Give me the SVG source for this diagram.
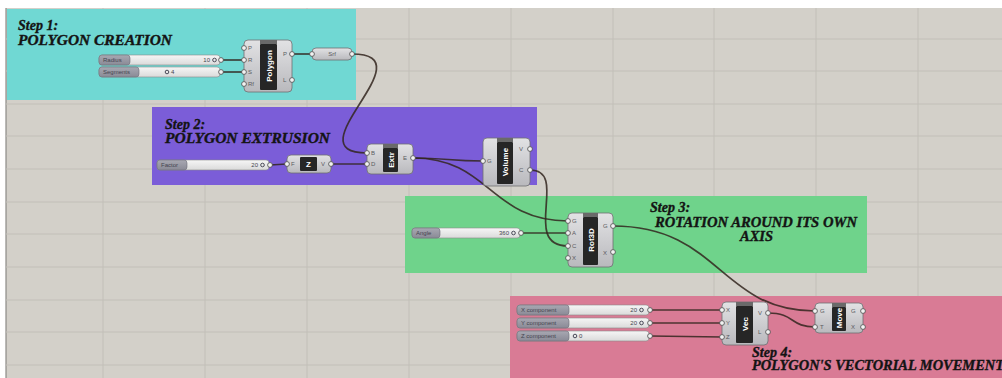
<svg xmlns="http://www.w3.org/2000/svg" width="1002" height="378" viewBox="0 0 1002 378">
  <defs>
    <linearGradient id="gBody" x1="0" y1="0" x2="0" y2="1">
      <stop offset="0" stop-color="#e2e2e4"/>
      <stop offset="1" stop-color="#b9b9bd"/>
    </linearGradient>
    <linearGradient id="gField" x1="0" y1="0" x2="0" y2="1">
      <stop offset="0" stop-color="#f6f6f6"/>
      <stop offset="1" stop-color="#dadada"/>
    </linearGradient>
    <linearGradient id="gLab" x1="0" y1="0" x2="0" y2="1">
      <stop offset="0" stop-color="#a8a8b2"/>
      <stop offset="1" stop-color="#8a8a96"/>
    </linearGradient>
    <style>
      .canvas{fill:#d3d0c9}
      .grid{stroke:#c2bfb8;stroke-width:1}
      .body{fill:url(#gBody);stroke:#6e6e72;stroke-width:0.8}
      .core{fill:#262626}
      .cap{fill:#6a6a6a}
      .port{fill:#f2f2f2;stroke:#4a4a4a;stroke-width:0.8}
      .pl{font-family:"Liberation Sans",sans-serif;font-size:6px;fill:#5a5a60}
      .name{font-family:"Liberation Sans",sans-serif;font-weight:bold;font-size:8px;fill:#ffffff}
      .wire{fill:none;stroke:#33261e;stroke-opacity:0.85;stroke-width:1.7}
      .title{font-family:"Liberation Serif",serif;font-weight:900;font-style:italic;font-size:14px;fill:#141414;stroke:#141414;stroke-width:0.35}
      .slab{fill:url(#gLab);stroke:#6e6e78;stroke-width:0.6}
      .sfield{fill:url(#gField);stroke:#8a8a8a;stroke-width:0.6}
      .stext{font-family:"Liberation Sans",sans-serif;font-size:6px;fill:#44444f}
      .grip{fill:none;stroke:#4a4a58;stroke-width:1}
    </style>
  </defs>

  <!-- canvas and grid -->
  <rect x="0" y="0" width="1002" height="378" fill="#ffffff"/>
  <rect class="canvas" x="6" y="8" width="996" height="370"/>
  <line x1="6" y1="8" x2="6" y2="378" stroke="#8c8a86" stroke-width="1.2"/>
  <g class="grid">
    <line x1="6" y1="39" x2="1002" y2="39"/>
    <line x1="6" y1="71" x2="1002" y2="71"/>
    <line x1="6" y1="104" x2="1002" y2="104"/>
    <line x1="6" y1="136" x2="1002" y2="136"/>
    <line x1="6" y1="169" x2="1002" y2="169"/>
    <line x1="6" y1="202" x2="1002" y2="202"/>
    <line x1="6" y1="234" x2="1002" y2="234"/>
    <line x1="6" y1="267" x2="1002" y2="267"/>
    <line x1="6" y1="300" x2="1002" y2="300"/>
    <line x1="6" y1="332" x2="1002" y2="332"/>
    <line x1="6" y1="365" x2="1002" y2="365"/>
    <line x1="103" y1="8" x2="103" y2="378"/>
    <line x1="205" y1="8" x2="205" y2="378"/>
    <line x1="307" y1="8" x2="307" y2="378"/>
    <line x1="409" y1="8" x2="409" y2="378"/>
    <line x1="511" y1="8" x2="511" y2="378"/>
    <line x1="613" y1="8" x2="613" y2="378"/>
    <line x1="714" y1="8" x2="714" y2="378"/>
    <line x1="816" y1="8" x2="816" y2="378"/>
    <line x1="918" y1="8" x2="918" y2="378"/>
  </g>

  <!-- groups -->
  <g id="group-step1">
    <rect x="7" y="9" width="349" height="91" fill="#70d8d3"/>
    <text class="title" x="18" y="30">Step 1:</text>
    <text class="title" x="18" y="45" textLength="154" lengthAdjust="spacingAndGlyphs">POLYGON CREATION</text>
  </g>
  <g id="group-step2">
    <rect x="152" y="107" width="385" height="78" fill="#7b5dd8"/>
    <text class="title" x="165" y="129">Step 2:</text>
    <text class="title" x="165" y="143" textLength="165" lengthAdjust="spacingAndGlyphs">POLYGON EXTRUSION</text>
  </g>
  <g id="group-step3">
    <rect x="405" y="196" width="462" height="77" fill="#6fd38b"/>
    <text class="title" x="650" y="212" font-size="13">Step 3:</text>
    <text class="title" x="655" y="227" font-size="13" textLength="202" lengthAdjust="spacingAndGlyphs">ROTATION AROUND ITS OWN</text>
    <text class="title" x="740" y="241" font-size="13" textLength="33" lengthAdjust="spacingAndGlyphs">AXIS</text>
  </g>
  <g id="group-step4">
    <rect x="510" y="296" width="492" height="82" fill="#d97b95"/>
    <text class="title" x="752" y="357" font-size="11">Step 4:</text>
    <text class="title" x="752" y="370" font-size="11" textLength="252" lengthAdjust="spacingAndGlyphs">POLYGON'S VECTORIAL MOVEMENT</text>
  </g>

  <!-- connectors -->
  <g id="connectors">
    <path class="wire" d="M222,60 L244,60"/>
    <path class="wire" d="M222,72 L244,72"/>
    <path class="wire" d="M292,54 C300,54 304,54 312,54"/>
    <path class="wire" d="M352,54 C430,54 290,153 367,153"/>
    <path class="wire" d="M270,165 L287,164"/>
    <path class="wire" d="M331,164 L367,164"/>
    <path class="wire" d="M413,158 C448,158 448,161 483,161"/>
    <path class="wire" d="M413,158 C490,158 490,221 568,221"/>
    <path class="wire" d="M530,170 C570,170 520,246 568,246"/>
    <path class="wire" d="M522,233 L568,233"/>
    <path class="wire" d="M613,226 C720,226 720,311 815,311"/>
    <path class="wire" d="M650,310 L722,310"/>
    <path class="wire" d="M650,323 L722,323"/>
    <path class="wire" d="M650,336 L722,337"/>
    <path class="wire" d="M768,313 C795,313 790,327 815,327"/>
  </g>

  <!-- Step 1 nodes -->
  <g id="slider-radius">
    <rect class="sfield" x="99" y="55" width="121" height="10" rx="3"/>
    <rect class="slab" x="99" y="55" width="31" height="10" rx="3"/>
    <text class="stext" x="103" y="62.2">Radius</text>
    <text class="stext" x="210" y="62.2" text-anchor="end">10</text>
    <circle class="grip" cx="214.5" cy="60" r="1.8"/>
    <circle class="port" cx="221" cy="60" r="2.4"/>
  </g>
  <g id="slider-segments">
    <rect class="sfield" x="99" y="67" width="121" height="10" rx="3"/>
    <rect class="slab" x="99" y="67" width="40" height="10" rx="3"/>
    <text class="stext" x="103" y="74.2">Segments</text>
    <circle class="grip" cx="167" cy="72" r="1.8"/>
    <text class="stext" x="171" y="74.2">4</text>
    <circle class="port" cx="221" cy="72" r="2.4"/>
  </g>
  <g id="polygon">
    <rect class="body" x="244" y="40" width="48" height="52" rx="4"/>
    <rect class="cap" x="260" y="40" width="17" height="4"/>
    <rect class="core" x="260" y="44" width="17" height="46" rx="1"/>
    <text class="name" transform="translate(271.5,66) rotate(-90)" text-anchor="middle">Polygon</text>
    <text class="pl" x="248" y="50">P</text>
    <text class="pl" x="248" y="62">R</text>
    <text class="pl" x="248" y="74">S</text>
    <text class="pl" x="248" y="86">Rf</text>
    <text class="pl" x="283" y="56">P</text>
    <text class="pl" x="283" y="82">L</text>
    <circle class="port" cx="244" cy="48" r="2.4"/>
    <circle class="port" cx="244" cy="60" r="2.4"/>
    <circle class="port" cx="244" cy="72" r="2.4"/>
    <circle class="port" cx="244" cy="84" r="2.4"/>
    <circle class="port" cx="292" cy="54" r="2.4"/>
    <circle class="port" cx="292" cy="80" r="2.4"/>
  </g>
  <g id="srf">
    <rect class="body" x="312" y="48" width="40" height="12" rx="4"/>
    <text class="pl" x="332" y="56" text-anchor="middle">Srf</text>
    <circle class="port" cx="312" cy="54" r="2.4"/>
    <circle class="port" cx="352" cy="54" r="2.4"/>
  </g>

  <!-- Step 2 nodes -->
  <g id="slider-factor">
    <rect class="sfield" x="157" y="160" width="112" height="10" rx="3"/>
    <rect class="slab" x="157" y="160" width="30" height="10" rx="3"/>
    <text class="stext" x="161" y="167.2">Factor</text>
    <text class="stext" x="258" y="167.2" text-anchor="end">20</text>
    <circle class="grip" cx="262.5" cy="165" r="1.8"/>
    <circle class="port" cx="270" cy="165" r="2.4"/>
  </g>
  <g id="unit-z">
    <rect class="body" x="287" y="155" width="44" height="18" rx="4"/>
    <rect class="core" x="300" y="157" width="17" height="14" rx="1"/>
    <text class="name" x="308.5" y="167" text-anchor="middle">Z</text>
    <text class="pl" x="291" y="166">F</text>
    <text class="pl" x="321" y="166">V</text>
    <circle class="port" cx="287" cy="164" r="2.4"/>
    <circle class="port" cx="331" cy="164" r="2.4"/>
  </g>
  <g id="extrude">
    <rect class="body" x="367" y="144" width="46" height="30" rx="4"/>
    <rect class="cap" x="383" y="144" width="15" height="4"/>
    <rect class="core" x="383" y="148" width="15" height="24" rx="1"/>
    <text class="name" transform="translate(393.5,160) rotate(-90)" text-anchor="middle">Extr</text>
    <text class="pl" x="371" y="155">B</text>
    <text class="pl" x="371" y="166">D</text>
    <text class="pl" x="403" y="160">E</text>
    <circle class="port" cx="367" cy="153" r="2.4"/>
    <circle class="port" cx="367" cy="164" r="2.4"/>
    <circle class="port" cx="413" cy="158" r="2.4"/>
  </g>
  <g id="volume">
    <rect class="body" x="483" y="138" width="47" height="48" rx="4"/>
    <rect class="cap" x="497" y="138" width="16" height="4"/>
    <rect class="core" x="497" y="142" width="16" height="42" rx="1"/>
    <text class="name" transform="translate(508,162) rotate(-90)" text-anchor="middle">Volume</text>
    <text class="pl" x="487" y="163">G</text>
    <text class="pl" x="519" y="151">V</text>
    <text class="pl" x="519" y="172">C</text>
    <circle class="port" cx="483" cy="161" r="2.4"/>
    <circle class="port" cx="530" cy="149" r="2.4"/>
    <circle class="port" cx="530" cy="170" r="2.4"/>
  </g>

  <!-- Step 3 nodes -->
  <g id="slider-angle">
    <rect class="sfield" x="412" y="228" width="108" height="10" rx="3"/>
    <rect class="slab" x="412" y="228" width="28" height="10" rx="3"/>
    <text class="stext" x="416" y="235.2">Angle</text>
    <text class="stext" x="509" y="235.2" text-anchor="end">360</text>
    <circle class="grip" cx="513.5" cy="233" r="1.8"/>
    <circle class="port" cx="521" cy="233" r="2.4"/>
  </g>
  <g id="rotate3d">
    <rect class="body" x="568" y="213" width="45" height="54" rx="4"/>
    <rect class="cap" x="583" y="213" width="15" height="4"/>
    <rect class="core" x="583" y="217" width="15" height="48" rx="1"/>
    <text class="name" transform="translate(593.5,240) rotate(-90)" text-anchor="middle">Rot3D</text>
    <text class="pl" x="572" y="223">G</text>
    <text class="pl" x="572" y="235">A</text>
    <text class="pl" x="572" y="248">C</text>
    <text class="pl" x="572" y="260">X</text>
    <text class="pl" x="603" y="228">G</text>
    <text class="pl" x="603" y="255">X</text>
    <circle class="port" cx="568" cy="221" r="2.4"/>
    <circle class="port" cx="568" cy="233" r="2.4"/>
    <circle class="port" cx="568" cy="246" r="2.4"/>
    <circle class="port" cx="568" cy="258" r="2.4"/>
    <circle class="port" cx="613" cy="226" r="2.4"/>
    <circle class="port" cx="613" cy="252" r="2.4"/>
  </g>

  <!-- Step 4 nodes -->
  <g id="slider-x">
    <rect class="sfield" x="517" y="305" width="132" height="10" rx="3"/>
    <rect class="slab" x="517" y="305" width="52" height="10" rx="3"/>
    <text class="stext" x="521" y="312.2">X component</text>
    <text class="stext" x="637" y="312.2" text-anchor="end">20</text>
    <circle class="grip" cx="641.5" cy="310" r="1.8"/>
    <circle class="port" cx="650" cy="310" r="2.4"/>
  </g>
  <g id="slider-y">
    <rect class="sfield" x="517" y="318" width="132" height="10" rx="3"/>
    <rect class="slab" x="517" y="318" width="52" height="10" rx="3"/>
    <text class="stext" x="521" y="325.2">Y component</text>
    <text class="stext" x="637" y="325.2" text-anchor="end">20</text>
    <circle class="grip" cx="641.5" cy="323" r="1.8"/>
    <circle class="port" cx="650" cy="323" r="2.4"/>
  </g>
  <g id="slider-z">
    <rect class="sfield" x="517" y="331" width="132" height="10" rx="3"/>
    <rect class="slab" x="517" y="331" width="52" height="10" rx="3"/>
    <text class="stext" x="521" y="338.2">Z component</text>
    <circle class="grip" cx="575" cy="336" r="1.8"/>
    <text class="stext" x="579" y="338.2">0</text>
    <circle class="port" cx="650" cy="336" r="2.4"/>
  </g>
  <g id="vector">
    <rect class="body" x="722" y="302" width="46" height="43" rx="4"/>
    <rect class="cap" x="736" y="302" width="17" height="4"/>
    <rect class="core" x="736" y="306" width="17" height="37" rx="1"/>
    <text class="name" transform="translate(747.5,324) rotate(-90)" text-anchor="middle">Vec</text>
    <text class="pl" x="726" y="312">X</text>
    <text class="pl" x="726" y="325">Y</text>
    <text class="pl" x="726" y="339">Z</text>
    <text class="pl" x="758" y="315">V</text>
    <text class="pl" x="758" y="334">L</text>
    <circle class="port" cx="722" cy="310" r="2.4"/>
    <circle class="port" cx="722" cy="323" r="2.4"/>
    <circle class="port" cx="722" cy="337" r="2.4"/>
    <circle class="port" cx="768" cy="313" r="2.4"/>
    <circle class="port" cx="768" cy="332" r="2.4"/>
  </g>
  <g id="move">
    <rect class="body" x="815" y="303" width="48" height="30" rx="4"/>
    <rect class="cap" x="832" y="303" width="14" height="4"/>
    <rect class="core" x="832" y="307" width="14" height="24" rx="1"/>
    <text class="name" transform="translate(842,318) rotate(-90)" text-anchor="middle">Move</text>
    <text class="pl" x="820" y="313">G</text>
    <text class="pl" x="820" y="329">T</text>
    <text class="pl" x="851" y="313">G</text>
    <text class="pl" x="851" y="329">X</text>
    <circle class="port" cx="815" cy="311" r="2.4"/>
    <circle class="port" cx="815" cy="327" r="2.4"/>
    <circle class="port" cx="863" cy="311" r="2.4"/>
    <circle class="port" cx="863" cy="327" r="2.4"/>
  </g>
</svg>
